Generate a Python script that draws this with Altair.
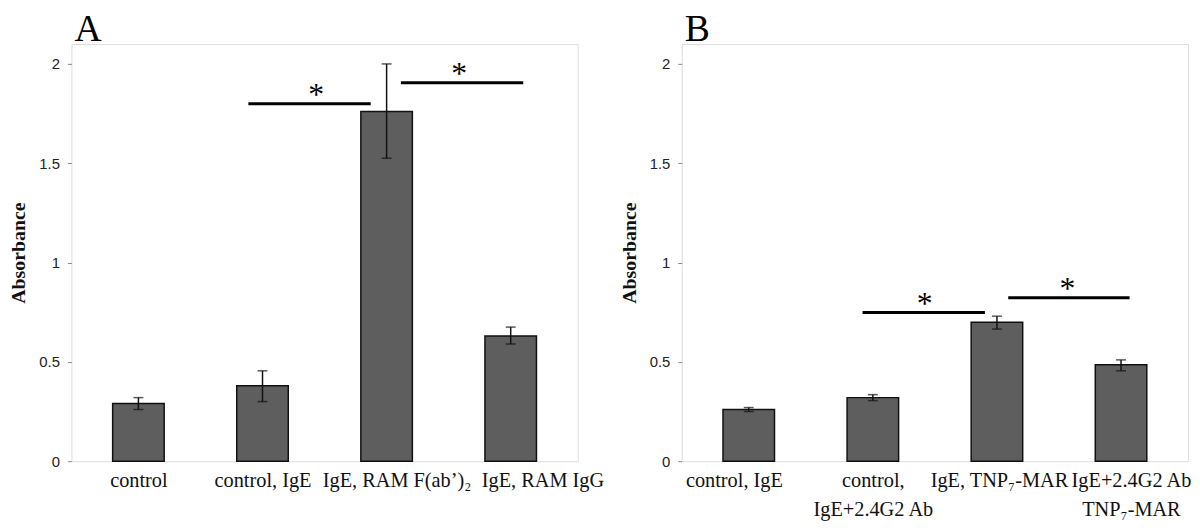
import altair as alt
import pandas as pd

# ---------------- data ----------------
cats_a = ["control", "control, IgE", "IgE, RAM F(ab’)₂", "IgE, RAM IgG"]
vals_a = [0.29, 0.38, 1.76, 0.63]
lo_a = [0.26, 0.30, 1.525, 0.59]
hi_a = [0.32, 0.455, 2.0, 0.675]
label_shift_a = [0, 0, 10, 32]

cats_b = ["control, IgE", "control,|IgE+2.4G2 Ab", "IgE, TNP₇-MAR", "IgE+2.4G2 Ab|TNP₇-MAR"]
vals_b = [0.26, 0.32, 0.70, 0.485]
lo_b = [0.25, 0.305, 0.665, 0.455]
hi_b = [0.27, 0.335, 0.73, 0.51]
label_shift_b = [-15, 0, 2, 10]

# significance brackets (x in category units, y in absorbance)
sig_a_x1 = [1.386, 2.615]
sig_a_x2 = [2.372, 3.601]
sig_a_y = [1.80, 1.905]
star_a_x = [1.933, 3.084]
star_a_y = [1.865, 1.97]

sig_b_x1 = [1.417, 2.591]
sig_b_x2 = [2.403, 3.569]
sig_b_y = [0.748, 0.823]
star_b_x = [1.918, 3.068]
star_b_y = [0.81, 0.885]

y_ticks = [0, 0.5, 1, 1.5, 2]


def panel(letter, cats, vals, lo, hi, shifts, sx1, sx2, sy, stx, sty):
    n = len(cats)
    df = pd.DataFrame({
        "pos": [i + 0.5 for i in range(n)],
        "cat": cats, "val": vals, "lo": lo, "hi": hi,
    })
    sig = pd.DataFrame({
        "x1": sx1, "x2": sx2, "y": sy, "sx": stx, "sy": sty,
        "star": ["*"] * len(sx1),
    })
    label_list = ",".join("'" + c + "'" for c in cats)
    conds = [{"test": "datum.value == %s" % (i + 0.5), "value": s}
             for i, s in enumerate(shifts) if s != 0]
    label_offset = {"condition": conds, "value": 0}
    xscale = alt.Scale(domain=[0, n], nice=False, zero=False)
    yscale = alt.Scale(domain=[0, 2.1], nice=False)
    xaxis = alt.Axis(
        values=[i + 0.5 for i in range(n)],
        labelExpr="split([" + label_list + "][floor(datum.value)], '|')",
        ticks=False, domain=False, grid=False, title=None,
        labelFont="Liberation Serif", labelFontSize=20.5, labelColor="#111",
        labelPadding=10, labelLineHeight=29, labelOverlap=False,
        labelFlush=False, labelBound=False,
        labelOffset=label_offset,
    )
    yaxis = alt.Axis(
        values=y_ticks, format="~g", title="Absorbance", grid=False,
        domain=False, tickColor="#888", tickSize=4, tickWidth=1,
        labelFont="Liberation Sans", labelFontSize=15, labelColor="#222",
        labelPadding=8, titleFont="Liberation Serif", titleFontSize=20,
        titleFontWeight="bold", titleColor="#111", titlePadding=10,
    )
    base = alt.Chart(df)
    bars = base.mark_bar(size=52, color="#5e5e5e", stroke="#111", strokeWidth=1.5).encode(
        x=alt.X("pos:Q", scale=xscale, axis=xaxis),
        y=alt.Y("val:Q", scale=yscale, axis=yaxis),
    )
    err = base.mark_rule(color="#111", strokeWidth=1.5).encode(
        x="pos:Q", y="lo:Q", y2="hi:Q")
    cap_lo = base.mark_tick(orient="horizontal", size=10, thickness=1.5, color="#111").encode(
        x="pos:Q", y="lo:Q")
    cap_hi = base.mark_tick(orient="horizontal", size=10, thickness=1.5, color="#111").encode(
        x="pos:Q", y="hi:Q")
    sbase = alt.Chart(sig)
    lines = sbase.mark_rule(color="#000", strokeWidth=3).encode(
        x="x1:Q", x2="x2:Q", y="y:Q")
    stars = sbase.mark_text(font="Liberation Serif", fontSize=32, color="#000",
                            baseline="middle", dy=4).encode(
        x="sx:Q", y="sy:Q", text="star:N")
    return alt.layer(bars, err, cap_lo, cap_hi, lines, stars).properties(
        width=511, height=421,
        title=alt.TitleParams(text=letter, anchor="start", frame="group",
                              font="Liberation Serif", fontSize=38,
                              fontWeight="normal", color="#000", offset=-5, dx=3),
    )


pa = panel("A", cats_a, vals_a, lo_a, hi_a, label_shift_a,
           sig_a_x1, sig_a_x2, sig_a_y, star_a_x, star_a_y)
pb = panel("B", cats_b, vals_b, lo_b, hi_b, label_shift_b,
           sig_b_x1, sig_b_x2, sig_b_y, star_b_x, star_b_y)

chart = alt.hconcat(pa, pb, spacing=105, bounds="flush").properties(
    padding={"left": 0, "top": 0, "right": 0, "bottom": 0}
).configure_view(stroke="#858585", strokeWidth=1.5).configure(background="white")

chart.save("out.html", embed_options={"renderer": "svg", "actions": False})
